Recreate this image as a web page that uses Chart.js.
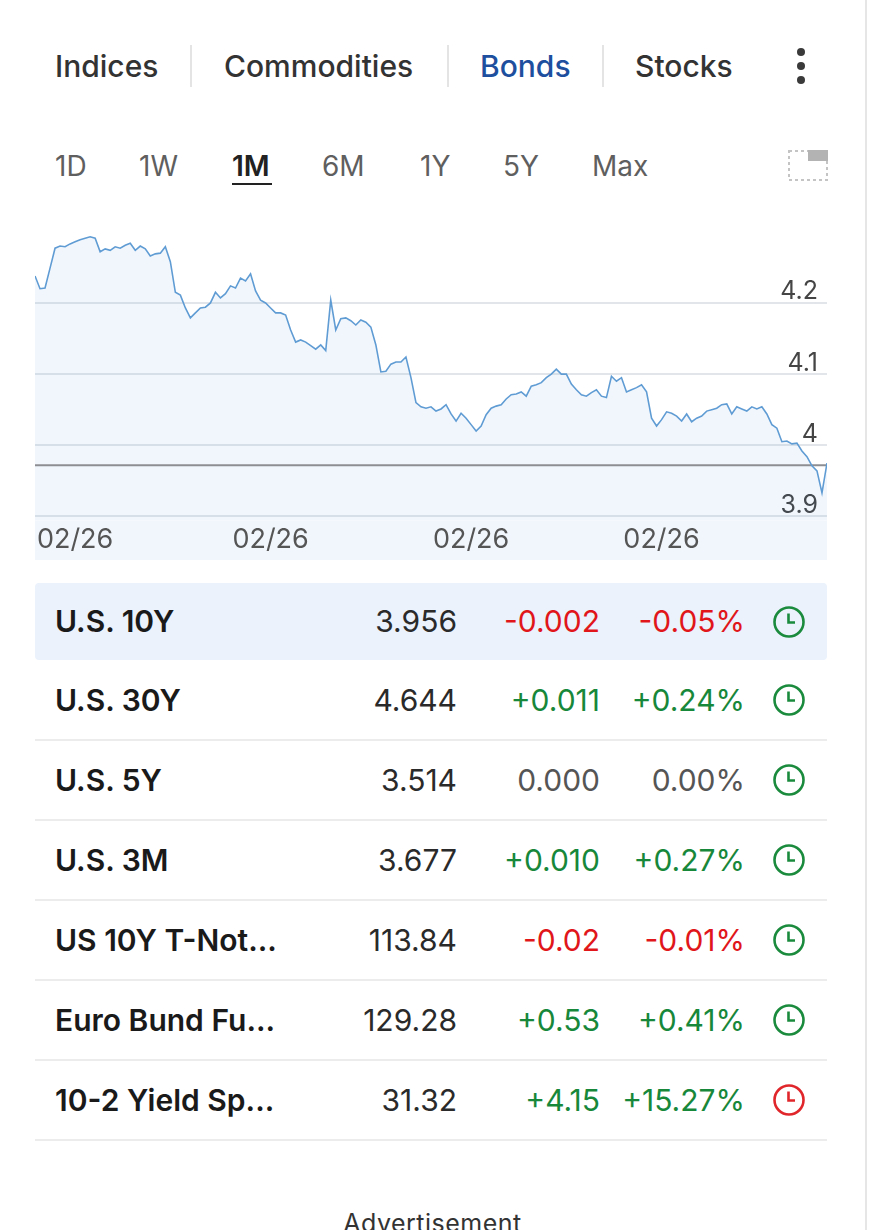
<!DOCTYPE html>
<html>
<head>
<meta charset="utf-8">
<script src="https://cdn.jsdelivr.net/npm/chart.js@4"></script>
<style>
  html, body { margin: 0; padding: 0; background: #fff; }
  body { width: 870px; height: 1230px; position: relative; overflow: hidden; font-family: Inter, "Noto Sans", sans-serif; color: #222; }
  .abs { position: absolute; white-space: nowrap; }
  .tab { font-size: 30px; font-weight: 500; color: #333; top: 47px; line-height: 38px; }
  .sep { position: absolute; top: 45px; width: 2px; height: 42px; background: #e4e4e4; }
  .dot { position: absolute; left: 797px; width: 8px; height: 8px; border-radius: 50%; background: #3a3a3a; }
  .rng { font-size: 28px; color: #5f5f5f; top: 149px; line-height: 34px; }
  .rng.on { color: #222; font-weight: 600; }
  #chartBox { position: absolute; left: 35px; top: 222px; width: 792px; height: 338px; }
  .row { position: absolute; left: 35px; width: 792px; height: 80px; }
  .row .cell { position: absolute; top: 0; font-size: 30px; }
  .name { left: 20px; font-weight: 600; color: #1a1a1a; }
  .num { text-align: right; color: #2a2a2a; }
  .line { position: absolute; left: 35px; width: 792px; height: 2px; background: #ececec; }
</style>
</head>
<body>
<div class="abs" style="left:865px;top:0;width:2px;height:1230px;background:#e6e6e6"></div>

<div class="abs tab" style="left:55px">Indices</div>
<div class="sep" style="left:190px"></div>
<div class="abs tab" style="left:224px">Commodities</div>
<div class="sep" style="left:447px"></div>
<div class="abs tab" style="left:480px;color:#1d4f9e">Bonds</div>
<div class="sep" style="left:602px"></div>
<div class="abs tab" style="left:635px">Stocks</div>
<div class="dot" style="top:48px"></div>
<div class="dot" style="top:62px"></div>
<div class="dot" style="top:76px"></div>

<div class="abs rng" style="left:55px">1D</div>
<div class="abs rng" style="left:139px">1W</div>
<div class="abs rng on" style="left:232px">1M</div>
<div class="abs" style="left:232px;top:183px;width:40px;height:2px;background:#222"></div>
<div class="abs rng" style="left:322px">6M</div>
<div class="abs rng" style="left:420px">1Y</div>
<div class="abs rng" style="left:503px">5Y</div>
<div class="abs rng" style="left:592px">Max</div>
<svg class="abs" style="left:786px;top:148px" width="44" height="36">
  <rect x="3" y="3" width="38" height="29" fill="none" stroke="#c4c4c4" stroke-width="2" stroke-dasharray="3 3"/>
  <rect x="22" y="2" width="20" height="11" fill="#b3b3b3"/>
</svg>

<div id="chartBox"><canvas id="chart"></canvas></div>

<div class="abs" style="left:35px;top:583px;width:792px;height:77px;background:#ebf2fc;border-radius:4px"></div>
<div id="table"></div>

<div class="abs" style="left:0;width:865px;top:1208px;text-align:center;font-size:25px;color:#333;letter-spacing:0.5px">Advertisement</div>

<script>
// 1M intraday yield of the U.S. 10Y left to right
const yields = [
  4.238, 4.220, 4.221, 4.249, 4.277, 4.280, 4.279, 4.283, 4.286, 4.289,
  4.291, 4.293, 4.291, 4.272, 4.276, 4.274, 4.279, 4.277, 4.281, 4.284,
  4.274, 4.280, 4.276, 4.266, 4.269, 4.270, 4.279, 4.258, 4.215, 4.211,
  4.193, 4.179, 4.186, 4.193, 4.194, 4.200, 4.215, 4.207, 4.213, 4.224,
  4.221, 4.235, 4.231, 4.241, 4.217, 4.204, 4.200, 4.193, 4.186, 4.186,
  4.183, 4.162, 4.145, 4.148, 4.145, 4.140, 4.135, 4.141, 4.133, 4.204,
  4.162, 4.178, 4.179, 4.175, 4.169, 4.176, 4.173, 4.166, 4.141, 4.103,
  4.104, 4.114, 4.117, 4.117, 4.124, 4.095, 4.060, 4.054, 4.052, 4.054,
  4.048, 4.051, 4.057, 4.044, 4.034, 4.045, 4.038, 4.029, 4.020, 4.027,
  4.043, 4.052, 4.055, 4.057, 4.065, 4.071, 4.072, 4.075, 4.069, 4.083,
  4.085, 4.088, 4.095, 4.100, 4.107, 4.100, 4.100, 4.086, 4.078, 4.071,
  4.069, 4.074, 4.078, 4.069, 4.067, 4.097, 4.090, 4.095, 4.075, 4.078,
  4.081, 4.085, 4.075, 4.038, 4.027, 4.036, 4.047, 4.045, 4.041, 4.034,
  4.044, 4.033, 4.038, 4.041, 4.048, 4.050, 4.052, 4.057, 4.058, 4.044,
  4.054, 4.051, 4.048, 4.054, 4.051, 4.054, 4.044, 4.029, 4.024, 4.005,
  4.006, 4.002, 4.003, 3.992, 3.984, 3.971, 3.964, 3.933, 3.975
];
const prevClose = 3.972;
const yTicks = [3.9, 4, 4.1, 4.2];
const dateTickIdx = [8, 47, 87, 125];
const dateTickText = ['02/26', '02/26', '02/26', '02/26'];

// quote table
const names   = ['U.S. 10Y', 'U.S. 30Y', 'U.S. 5Y', 'U.S. 3M', 'US 10Y T-Not...', 'Euro Bund Fu...', '10-2 Yield Sp...'];
const prices  = ['3.956', '4.644', '3.514', '3.677', '113.84', '129.28', '31.32'];
const changes = ['-0.002', '+0.011', '0.000', '+0.010', '-0.02', '+0.53', '+4.15'];
const pcts    = ['-0.05%', '+0.24%', '0.00%', '+0.27%', '-0.01%', '+0.41%', '+15.27%'];
const clockRed = [false, false, false, false, false, false, true];

function tone(s) {
  if (s.charAt(0) === '-') return '#e0161b';
  if (s.charAt(0) === '+') return '#17873a';
  return '#555';
}

var html = '';
for (var i = 0; i < names.length; i++) {
  var h = i === 0 ? 77 : 80;
  var c = clockRed[i] ? '#e0262b' : '#1a8a3c';
  html += '<div class="row" style="top:' + (i === 0 ? 583 : 660 + (i - 1) * 80) + 'px;height:' + h + 'px">' +
    '<div class="cell name" style="line-height:' + h + 'px">' + names[i] + '</div>' +
    '<div class="cell num" style="right:370px;line-height:' + h + 'px">' + prices[i] + '</div>' +
    '<div class="cell num" style="right:227px;line-height:' + h + 'px;color:' + tone(changes[i]) + '">' + changes[i] + '</div>' +
    '<div class="cell num" style="right:82px;line-height:' + h + 'px;color:' + tone(pcts[i]) + '">' + pcts[i] + '</div>' +
    '<svg style="position:absolute;left:737px;top:' + (h / 2 - 17) + 'px" width="34" height="34">' +
      '<circle cx="17" cy="17" r="14.5" fill="none" stroke="' + c + '" stroke-width="2.6"/>' +
      '<path d="M16.5 8.5 V17.5 H23" fill="none" stroke="' + c + '" stroke-width="2.6"/></svg>' +
    '</div>';
  if (i > 0) html += '<div class="line" style="top:' + (739 + (i - 1) * 80) + 'px"></div>';
}
document.getElementById('table').innerHTML = html;

const stripBelow = {
  id: 'stripBelow',
  beforeDraw(chart) {
    const ctx = chart.ctx, a = chart.chartArea;
    ctx.save();
    ctx.fillStyle = 'rgb(241, 246, 252)';
    ctx.fillRect(0, a.bottom, chart.width, chart.height - a.bottom);
    ctx.restore();
  }
};

new Chart(document.getElementById('chart'), {
  type: 'line',
  data: {
    labels: yields.map(function (_, i) { return String(i); }),
    datasets: [{
      data: yields,
      borderColor: 'rgb(96, 156, 212)',
      borderWidth: 1.6,
      pointRadius: 0,
      tension: 0,
      fill: 'start',
      backgroundColor: 'rgba(70, 140, 220, 0.075)',
      order: 0
    }, {
      data: [{ x: '0', y: prevClose }, { x: String(yields.length - 1), y: prevClose }],
      borderColor: 'rgb(140, 142, 146)',
      borderWidth: 2,
      pointRadius: 0,
      fill: false,
      order: 1
    }]
  },
  options: {
    responsive: true,
    maintainAspectRatio: false,
    animation: false,
    events: [],
    layout: { padding: 0 },
    plugins: {
      legend: { display: false },
      tooltip: { enabled: false },
      filler: { drawTime: 'beforeDatasetsDraw' }
    },
    scales: {
      x: {
        grid: { display: false, drawTicks: false },
        border: { display: false },
        afterFit: function (axis) { axis.paddingLeft = 0; axis.paddingRight = 0; },
        ticks: {
          autoSkip: false,
          maxRotation: 0,
          minRotation: 0,
          padding: 0,
          color: '#555',
          font: { family: 'Inter', size: 27, lineHeight: 1.47 },
          callback: function (v, i) {
            var j = dateTickIdx.indexOf(i);
            return j >= 0 ? dateTickText[j] : '';
          }
        }
      },
      y: {
        position: 'right',
        min: 3.8945,
        max: 4.3138,
        afterBuildTicks: function (axis) {
          axis.ticks = yTicks.map(function (v) { return { value: v }; });
        },
        afterFit: function (axis) {
          axis.width = 0;
          axis.paddingTop = 0;
          axis.paddingBottom = 0;
        },
        grid: { color: '#e2e5e9', lineWidth: 2, drawTicks: false },
        border: { display: false },
        ticks: {
          mirror: true,
          padding: -9,
          labelOffset: -11,
          color: '#454545',
          font: { family: 'Inter', size: 25 },
          callback: function (v) { return String(v); }
        }
      }
    }
  },
  plugins: [stripBelow]
});
</script>
</body>
</html>
